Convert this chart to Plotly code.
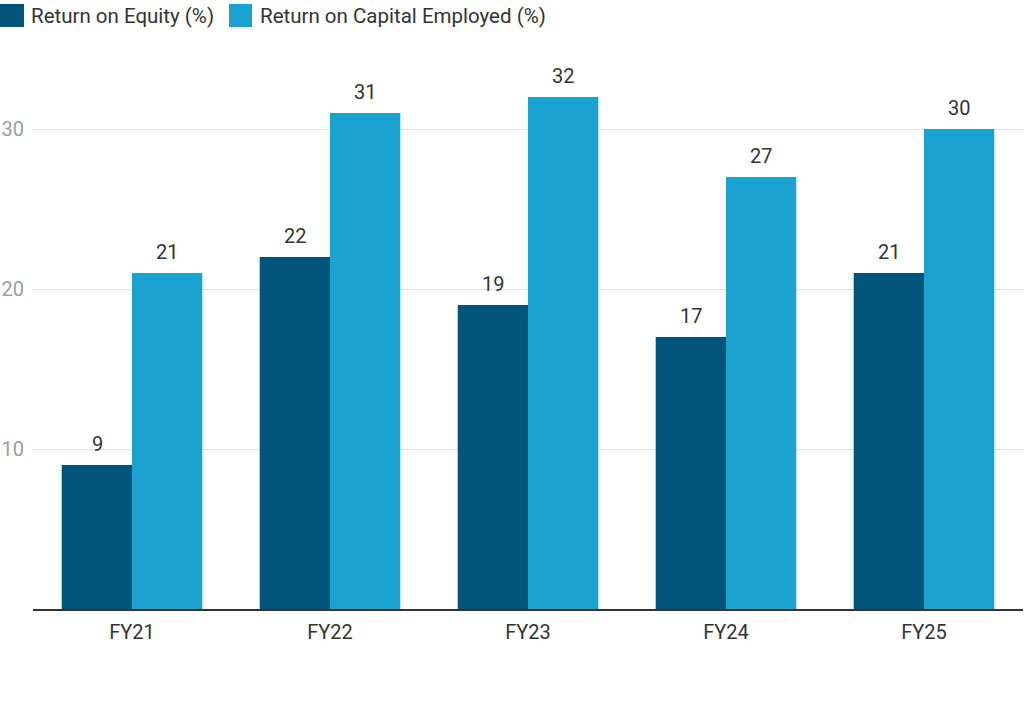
import plotly.graph_objects as go

categories = ["FY21", "FY22", "FY23", "FY24", "FY25"]
roe = [9, 22, 19, 17, 21]
roce = [21, 31, 32, 27, 30]
ytick_vals = [10, 20, 30]
series = [("Return on Equity (%)", roe, "#01547a"),
          ("Return on Capital Employed (%)", roce, "#1aa2d0")]

fig = go.Figure()
for name, vals, col in series:
    fig.add_trace(go.Bar(name=name, x=categories, y=vals, marker_color=col,
                         marker_line_width=0, showlegend=False))

# value labels above bars
offsets = [-35, 35]
for (name, vals, col), dx in zip(series, offsets):
    for c, v in zip(categories, vals):
        fig.add_annotation(x=c, y=v, text=str(v), showarrow=False, xref="x", yref="y",
                           xshift=dx, yshift=7, yanchor="bottom",
                           font=dict(size=20, color="#333333"))

# custom legend (large square swatches), pixel layout converted to paper coords
L, T, W, H = 33, 49, 990, 560
legend_items = [(0, 24, 30), (229, 252, 259)]
for (name, vals, col), (sx0, sx1, tx) in zip(series, legend_items):
    fig.add_shape(type="rect", xref="paper", yref="paper",
                  x0=(sx0 - L) / W, x1=(sx1 - L) / W,
                  y0=(T + H - 4) / H, y1=(T + H - 27) / H,
                  fillcolor=col, line_width=0)
    fig.add_annotation(x=(tx - L) / W, y=(T + H - 16) / H, xref="paper", yref="paper",
                       text=name, showarrow=False, xanchor="left", yanchor="middle",
                       xshift=-1, font=dict(size=20.5, color="#333333"))

fig.update_layout(
    width=1024, height=703,
    margin=dict(l=L, r=1, t=T, b=703 - T - H, autoexpand=False),
    barmode="group", bargap=0.29, bargroupgap=0,
    plot_bgcolor="white", paper_bgcolor="white",
    font=dict(family="Roboto", size=20, color="#333333"),
    showlegend=False,
)
fig.update_xaxes(showline=True, linecolor="#333333", linewidth=2, ticks="",
                 tickfont=dict(size=20, color="#333333"), automargin=False,
                 ticklabelstandoff=4)
fig.update_yaxes(range=[0, 35], tickvals=ytick_vals, showgrid=True, gridcolor="#e0e0e0",
                 zeroline=False, tickfont=dict(size=20, color="#9e9e9e"),
                 ticklabelstandoff=8, automargin=False)

fig.write_html("out.html", config={"displayModeBar": False},
               post_script="document.body.style.margin='0px';")
